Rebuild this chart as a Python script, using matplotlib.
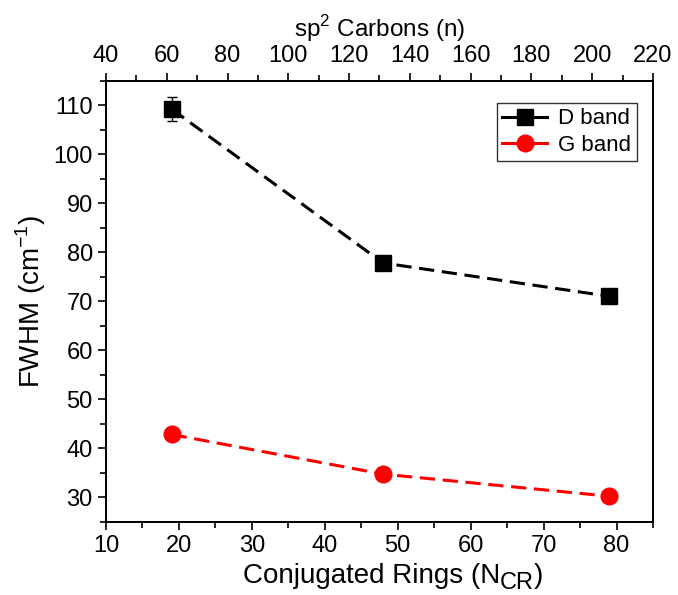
import matplotlib
matplotlib.use("Agg")
import matplotlib.pyplot as plt
from matplotlib.lines import Line2D
from matplotlib.ticker import MultipleLocator

plt.rcParams['font.family'] = ['Liberation Sans', 'DejaVu Sans']
plt.rcParams['mathtext.fontset'] = 'custom'
plt.rcParams['mathtext.rm'] = 'Liberation Sans'

# --- DATA ---
rings = [19, 48, 79]
d_band = [109.2, 77.8, 71.0]
d_err = [2.5, 0, 0]
g_band = [42.8, 34.7, 30.2]
labels = ['D band', 'G band']

# --- FIGURE ---
fig = plt.figure(figsize=(6.78, 5.95), dpi=100)
ax = fig.add_axes([0.1563, 0.1232, 0.8068, 0.7412])

dash = (0, (5, 2.5))
ax.errorbar(rings, d_band, yerr=d_err, color='black', ls=dash, lw=2.2,
            marker='s', ms=11, capsize=3.5, elinewidth=1, capthick=1)
ax.plot(rings, g_band, color='red', ls=dash, lw=2.2, marker='o', ms=12)

ax.set_xlim(10, 85)
ax.set_ylim(25, 115)
ax.xaxis.set_major_locator(MultipleLocator(10))
ax.xaxis.set_minor_locator(MultipleLocator(5))
ax.yaxis.set_major_locator(MultipleLocator(10))
ax.yaxis.set_minor_locator(MultipleLocator(5))
ax.tick_params(which='both', direction='out', width=1.2, labelsize=17, right=False, top=False)
ax.tick_params(which='major', length=6)
ax.tick_params(which='minor', length=4)
for s in ax.spines.values():
    s.set_linewidth(1.3)

ax.set_ylabel(r'FWHM (cm$^{\mathregular{-1}}$)', fontsize=20, labelpad=4)

# x label with a large subscript, built from pieces
t1 = fig.text(0.3584, 0.021, 'Conjugated Rings (N', fontsize=20, ha='left', va='baseline')
t2 = ax.annotate('CR', xy=(1, 0), xycoords=t1, xytext=(0, -4.3), textcoords='offset points',
                 fontsize=17, ha='left', va='bottom')
ax.annotate(')', xy=(1, 0), xycoords=(t2, t1), fontsize=20, ha='left', va='bottom')

# top axis
ax2 = ax.twiny()
ax2.set_xlim(40, 220)
ax2.xaxis.set_major_locator(MultipleLocator(20))
ax2.xaxis.set_minor_locator(MultipleLocator(10))
ax2.tick_params(which='both', direction='out', width=1.2, labelsize=17)
ax2.tick_params(which='major', length=6)
ax2.tick_params(which='minor', length=4)
ax2.set_xlabel(r'sp$^{\mathregular{2}}$ Carbons (n)', fontsize=17.5, labelpad=6)
for s in ax2.spines.values():
    s.set_linewidth(1.3)

handles = [Line2D([], [], color='black', lw=2.2, marker='s', ms=11),
           Line2D([], [], color='red', lw=2.2, marker='o', ms=12)]
leg = ax.legend(handles, labels, loc='upper right', fontsize=16,
                frameon=True, fancybox=False, edgecolor='black', handlelength=2.0,
                borderpad=0.25, labelspacing=0.25, handletextpad=0.5,
                borderaxespad=0, bbox_to_anchor=(0.97, 0.95))
leg.get_frame().set_linewidth(1)

fig.savefig('out.png', dpi=100)
